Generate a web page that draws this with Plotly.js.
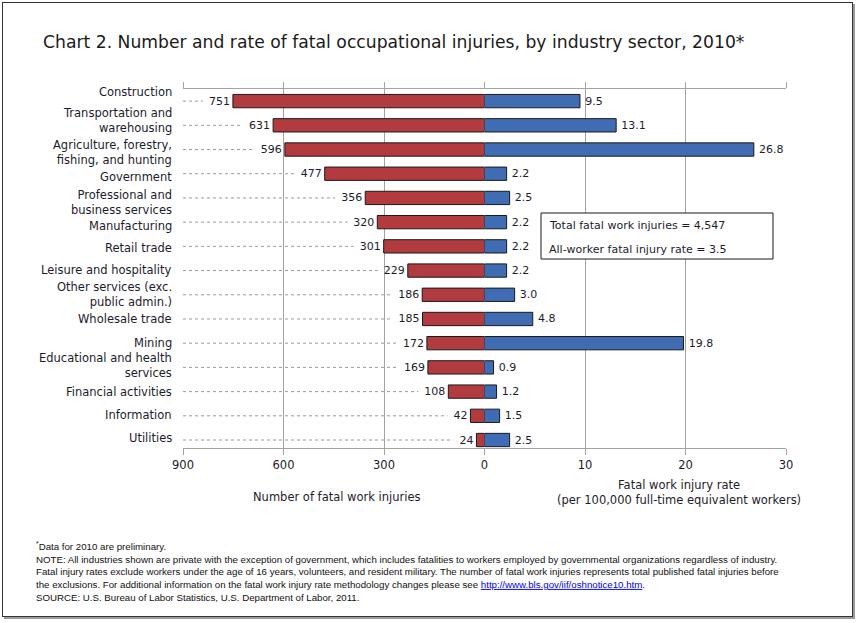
<!DOCTYPE html>
<html>
<head>
<meta charset="utf-8">
<script src="https://cdn.plot.ly/plotly-3.0.1.min.js"></script>
<style>
  html, body { margin: 0; padding: 0; background: #fff; }
  #wrap { position: relative; width: 858px; height: 623px; }
  #plot { position: absolute; left: 0; top: 0; width: 858px; height: 623px; }
  #frame { position: absolute; left: 2px; top: 2px; width: 849px; height: 613px;
           border: 1.5px solid #333; box-shadow: 2px 2px 0 #9a9a9a; pointer-events: none; }
</style>
</head>
<body>
<div id="wrap"><div id="plot"></div><div id="frame"></div></div>
<script>
// ---- data ----
var categories = [
  "Construction",
  "Transportation and<br>warehousing",
  "Agriculture, forestry,<br>fishing, and hunting",
  "Government",
  "Professional and<br>business services",
  "Manufacturing",
  "Retail trade",
  "Leisure and hospitality",
  "Other services (exc.<br>public admin.)",
  "Wholesale trade",
  "Mining",
  "Educational and health<br>services",
  "Financial activities",
  "Information",
  "Utilities"
];
var counts = [751, 631, 596, 477, 356, 320, 301, 229, 186, 185, 172, 169, 108, 42, 24];
var rates  = [9.5, 13.1, 26.8, 2.2, 2.5, 2.2, 2.2, 2.2, 3.0, 4.8, 19.8, 0.9, 1.2, 1.5, 2.5];
var countTicks = [900, 600, 300, 0];
var rateTicks = [10, 20, 30];
var totalText = "Total fatal work injuries = 4,547";
var rateText = "All-worker fatal injury rate = 3.5";

// ---- styling ----
var FONT = "DejaVu Sans, Verdana, sans-serif";
var TXT = "#1c1c2c";
var GRID = "#a3a3a3";
// vertical nudge (px, up = positive) of each category label, as in the original layout
var labelShift = [9, 5, -3, -3, -5, -4, -2, 1, 0, 0, 0, 1.5, 0, 1, 2];
var idx = categories.map(function (_, i) { return i; });
var yRange = [14.33, -0.5];

var plotLeft = 183, plotRight = 786, plotTop = 89, plotBottom = 448;
var halfPx = (plotRight - plotLeft) / 2;
var unitsPerPx = 900 / halfPx;
var valFont = 11;

var traces = [
  {
    type: "bar", orientation: "h",
    x: counts, y: idx, xaxis: "x", yaxis: "y",
    width: 0.55,
    marker: { color: "#b13b3f", line: { color: "#1a1a1a", width: 1 } },
    text: counts.map(String), textposition: "outside",
    textfont: { family: FONT, size: valFont, color: TXT },
    cliponaxis: false, constraintext: "none", hoverinfo: "none"
  },
  {
    type: "bar", orientation: "h",
    x: rates, y: idx, xaxis: "x2", yaxis: "y2",
    width: 0.55,
    marker: { color: "#3f6cb3", line: { color: "#1a1a1a", width: 1 } },
    text: rates.map(function (r) { return "\u2009" + r.toFixed(1); }), textposition: "outside",
    textfont: { family: FONT, size: valFont, color: TXT },
    cliponaxis: false, constraintext: "none", hoverinfo: "none"
  }
];

// dotted leader lines from the left edge to each count label
var shapes = counts.map(function (v, i) {
  var labelPx = String(v).length * 0.636 * valFont;
  return {
    type: "line", xref: "x", yref: "y", layer: "below",
    x0: 900, x1: v + (3 + labelPx + 6) * unitsPerPx, y0: i, y1: i,
    line: { color: "#9a9a9a", width: 1, dash: "dot" }
  };
});

function px2x(px) { return (px - plotLeft) / (plotRight - plotLeft); }
function px2y(py) { return (plotBottom - py) / (plotBottom - plotTop); }

// stats box
shapes.push({
  type: "rect", xref: "paper", yref: "paper",
  x0: px2x(541), x1: px2x(773), y0: px2y(259), y1: px2y(213),
  fillcolor: "#ffffff", line: { color: "#1a1a1a", width: 1 }, layer: "above"
});

var axisCommon = {
  showgrid: true, gridcolor: GRID, gridwidth: 1, zeroline: false,
  showline: true, linecolor: GRID, linewidth: 1, mirror: "ticks",
  ticks: "outside", ticklen: 6, tickcolor: GRID, tickwidth: 1,
  tickfont: { family: FONT, size: 11.5, color: TXT },
  fixedrange: true
};

var annotations = categories.map(function (c, i) {
  return {
    xref: "paper", yref: "y", x: 0, y: i, xshift: -9, yshift: labelShift[i],
    xanchor: "right", yanchor: "middle", align: "right", showarrow: false,
    text: c, font: { family: FONT, size: 11.5, color: TXT }
  };
});

annotations = annotations.concat([
  {
    xref: "paper", yref: "paper", x: px2x(547), y: px2y(225),
    xanchor: "left", yanchor: "middle", showarrow: false,
    text: totalText, font: { family: FONT, size: 11, color: TXT }
  },
  {
    xref: "paper", yref: "paper", x: px2x(547), y: px2y(249),
    xanchor: "left", yanchor: "middle", showarrow: false,
    text: rateText, font: { family: FONT, size: 11, color: TXT }
  },
  {
    xref: "paper", yref: "paper", x: px2x(337), y: px2y(497),
    xanchor: "center", yanchor: "middle", showarrow: false,
    text: "Number of fatal work injuries", font: { family: FONT, size: 11.5, color: TXT }
  },
  {
    xref: "paper", yref: "paper", x: px2x(679), y: px2y(492.5),
    xanchor: "center", yanchor: "middle", showarrow: false, align: "center",
    text: "Fatal work injury rate<br>(per 100,000 full-time equivalent workers)",
    font: { family: FONT, size: 11.5, color: TXT }
  },
  {
    xref: "paper", yref: "paper", x: px2x(34), y: px2y(538),
    xanchor: "left", yanchor: "top", showarrow: false, align: "left",
    font: { family: "Liberation Sans, Arial, sans-serif", size: 9.7, color: "#111" },
    text: "<sup>*</sup>Data for 2010 are preliminary.<br>" +
          "NOTE: All industries shown are private with the exception of government, which includes fatalities to workers employed by governmental organizations regardless of industry.<br>" +
          "Fatal injury rates exclude workers under the age of 16 years, volunteers, and resident military. The number of fatal work injuries represents total published fatal injuries before<br>" +
          "the exclusions. For additional information on the fatal work injury rate methodology changes please see " +
          "<a href=\"http://www.bls.gov/iif/oshnotice10.htm\" style=\"color:#0000ee;text-decoration:underline\">http://www.bls.gov/iif/oshnotice10.htm</a>.<br>" +
          "SOURCE: U.S. Bureau of Labor Statistics, U.S. Department of Labor, 2011."
  }
]);

var layout = {
  width: 858, height: 623,
  paper_bgcolor: "#ffffff", plot_bgcolor: "#ffffff",
  margin: { l: plotLeft, r: 858 - plotRight, t: plotTop, b: 623 - plotBottom },
  showlegend: false,
  title: {
    text: "Chart 2. Number and rate of fatal occupational injuries, by industry sector, 2010*",
    font: { family: FONT, size: 17.2, color: "#1a1a1a" },
    xref: "container", yref: "container",
    x: 43 / 858, xanchor: "left", y: 1 - 42 / 623, yanchor: "middle"
  },
  xaxis: Object.assign({}, axisCommon, {
    domain: [0, 0.5], anchor: "y", range: [900, 0], autorange: false,
    tickmode: "array", tickvals: countTicks, ticktext: countTicks.map(String)
  }),
  xaxis2: Object.assign({}, axisCommon, {
    domain: [0.5, 1], anchor: "y2", range: [0, 30], autorange: false,
    tickmode: "array", tickvals: rateTicks, ticktext: rateTicks.map(String)
  }),
  yaxis: {
    domain: [0, 1], anchor: "x", range: yRange, autorange: false,
    showticklabels: false, showgrid: false, zeroline: false, showline: false, ticks: "",
    fixedrange: true
  },
  yaxis2: {
    domain: [0, 1], anchor: "x2", range: yRange, autorange: false,
    showticklabels: false, showgrid: false, zeroline: false, showline: false, ticks: "",
    fixedrange: true
  },
  shapes: shapes,
  annotations: annotations
};

Plotly.newPlot("plot", traces, layout, { displayModeBar: false, staticPlot: true });
</script>
</body>
</html>
